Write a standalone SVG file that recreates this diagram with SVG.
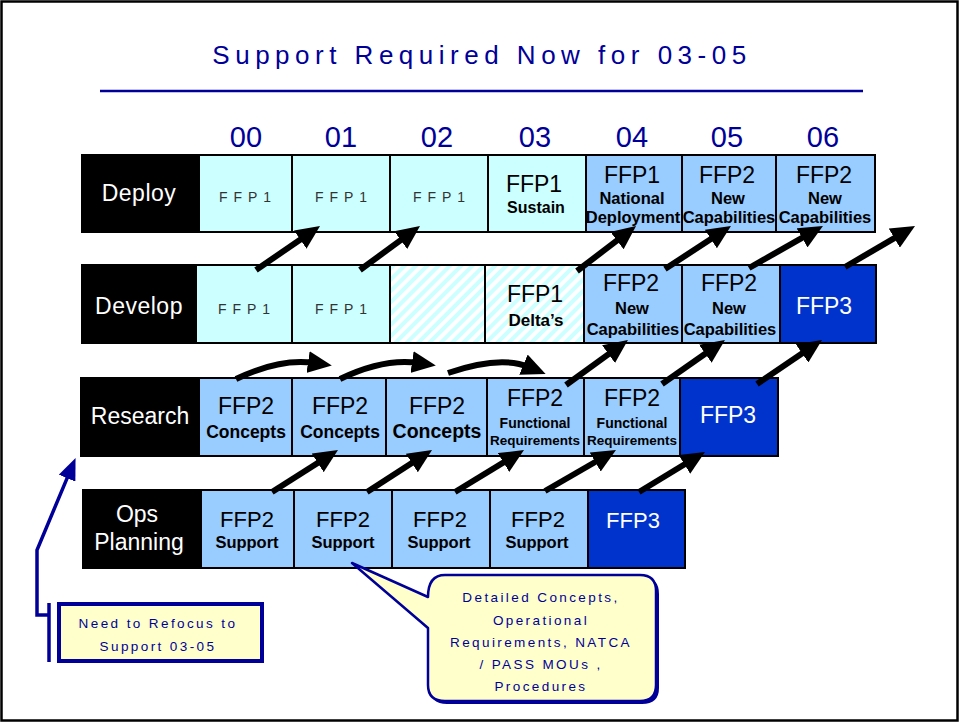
<svg xmlns="http://www.w3.org/2000/svg" width="960" height="723" viewBox="0 0 960 723">
<style>
text{font-family:"Liberation Sans",Arial,sans-serif;text-anchor:middle}
.cell{stroke:#000;stroke-width:2}
.blk{fill:#000}.cy{fill:#CCFFFF}.lb{fill:#99CCFF}.db{fill:#0033CC}.ht{fill:url(#hatch)}
.lbl{fill:#fff;font-size:23px}
.big{fill:#000;font-size:23px}
.w{fill:#fff;font-size:23px}
.sm{fill:#333;font-size:14px;letter-spacing:6px}
.sub{fill:#000;font-weight:bold;font-size:16.5px}
.fr{fill:#000;font-weight:bold;font-size:14px}
.yr{fill:#000099;font-size:29px}
.note{fill:#000099;font-size:13.5px;letter-spacing:2.4px}
.arr{stroke:#000;stroke-width:6;fill:none;marker-end:url(#ah)}
</style>
<defs>
<pattern id="hatch" patternUnits="userSpaceOnUse" width="8" height="8" patternTransform="rotate(45)">
<rect width="8" height="8" fill="#fff"/><rect width="4" height="8" fill="#CCFFFF"/>
</pattern>
<marker id="ah" markerUnits="userSpaceOnUse" viewBox="0 0 24 22" refX="6" refY="11" markerWidth="24" markerHeight="22" orient="auto">
<path d="M0,0 L24,11 L0,22 Z" fill="#000"/>
</marker>
<marker id="bh" markerUnits="userSpaceOnUse" viewBox="0 0 22 18" refX="5" refY="9" markerWidth="22" markerHeight="18" orient="auto">
<path d="M0,0 L22,9 L0,18 Z" fill="#000099"/>
</marker>
</defs>
<rect x="1.5" y="1.5" width="956" height="719" fill="#fff" stroke="#000" stroke-width="2.5"/>
<g id="title">
<text x="482" y="64" style="fill:#000099;font-size:26px;letter-spacing:5.5px">Support Required Now for 03-05</text>
<line x1="100" y1="91" x2="863" y2="91" stroke="#000099" stroke-width="2.5"/>
</g>
<g id="years">
<text class="yr" x="246" y="147">00</text>
<text class="yr" x="341" y="147">01</text>
<text class="yr" x="437" y="147">02</text>
<text class="yr" x="535" y="147">03</text>
<text class="yr" x="632" y="147">04</text>
<text class="yr" x="727" y="147">05</text>
<text class="yr" x="823" y="147">06</text>
</g>
<!-- Deploy row -->
<g id="deploy-label"><rect class="cell blk" x="82" y="155" width="117" height="77"/><text class="lbl" x="139" y="201" style="letter-spacing:0.5px">Deploy</text></g>
<g id="deploy-00"><rect class="cell cy" x="199" y="155" width="93" height="77"/><text class="sm" x="248" y="202">FFP1</text></g>
<g id="deploy-01"><rect class="cell cy" x="292" y="155" width="98" height="77"/><text class="sm" x="344" y="202">FFP1</text></g>
<g id="deploy-02"><rect class="cell cy" x="390" y="155" width="98" height="77"/><text class="sm" x="442" y="202">FFP1</text></g>
<g id="deploy-03"><rect class="cell cy" x="488" y="155" width="98" height="77"/><text class="big" x="534" y="192">FFP1</text><text class="sub" x="536" y="213" style="font-size:16px">Sustain</text></g>
<g id="deploy-04"><rect class="cell lb" x="586" y="155" width="96" height="77"/><text class="big" x="632" y="183">FFP1</text><text class="sub" x="632" y="204">National</text><text class="sub" x="633" y="223">Deployment</text></g>
<g id="deploy-05"><rect class="cell lb" x="682" y="155" width="94" height="77"/><text class="big" x="727" y="183">FFP2</text><text class="sub" x="728" y="204">New</text><text class="sub" x="729" y="223">Capabilities</text></g>
<g id="deploy-06"><rect class="cell lb" x="776" y="155" width="99" height="77"/><text class="big" x="824" y="183">FFP2</text><text class="sub" x="825" y="204">New</text><text class="sub" x="825" y="223">Capabilities</text></g>
<!-- Develop row -->
<g id="develop-label"><rect class="cell blk" x="82" y="265" width="114" height="78"/><text class="lbl" x="139" y="314" style="letter-spacing:0.5px">Develop</text></g>
<g id="develop-00"><rect class="cell cy" x="196" y="265" width="96" height="78"/><text class="sm" x="247" y="314">FFP1</text></g>
<g id="develop-01"><rect class="cell cy" x="292" y="265" width="98" height="78"/><text class="sm" x="344" y="314">FFP1</text></g>
<g id="develop-02"><rect class="cell ht" x="390" y="265" width="95" height="78"/></g>
<g id="develop-03"><rect class="cell ht" x="485" y="265" width="99" height="78"/><text class="big" x="535" y="302">FFP1</text><text class="sub" x="536" y="326" style="font-size:17px">Delta’s</text></g>
<g id="develop-04"><rect class="cell lb" x="584" y="265" width="98" height="78"/><text class="big" x="631" y="291">FFP2</text><text class="sub" x="632" y="314">New</text><text class="sub" x="633" y="335">Capabilities</text></g>
<g id="develop-05"><rect class="cell lb" x="682" y="265" width="98" height="78"/><text class="big" x="729" y="291">FFP2</text><text class="sub" x="729" y="314">New</text><text class="sub" x="730" y="335">Capabilities</text></g>
<g id="develop-06"><rect class="cell db" x="780" y="265" width="96" height="78"/><text class="w" x="824" y="314">FFP3</text></g>
<!-- Research row -->
<g id="research-label"><rect class="cell blk" x="81" y="378" width="118" height="78"/><text class="lbl" x="140" y="424">Research</text></g>
<g id="research-00"><rect class="cell lb" x="199" y="378" width="93" height="78"/><text class="big" x="246" y="414">FFP2</text><text class="sub" x="246" y="438" style="font-size:17.5px">Concepts</text></g>
<g id="research-01"><rect class="cell lb" x="292" y="378" width="94" height="78"/><text class="big" x="340" y="414">FFP2</text><text class="sub" x="340" y="438" style="font-size:17.5px">Concepts</text></g>
<g id="research-02"><rect class="cell lb" x="386" y="378" width="101" height="78"/><text class="big" x="437" y="414">FFP2</text><text class="sub" x="437" y="438" style="font-size:19.5px">Concepts</text></g>
<g id="research-03"><rect class="cell lb" x="487" y="378" width="97" height="78"/><text class="big" x="535" y="406">FFP2</text><text class="fr" x="535" y="428">Functional</text><text class="fr" x="535" y="445" style="font-size:13.5px">Requirements</text></g>
<g id="research-04"><rect class="cell lb" x="584" y="378" width="96" height="78"/><text class="big" x="632" y="406">FFP2</text><text class="fr" x="632" y="428">Functional</text><text class="fr" x="632" y="445" style="font-size:13.5px">Requirements</text></g>
<g id="research-05"><rect class="cell db" x="680" y="378" width="98" height="78"/><text class="w" x="728" y="423">FFP3</text></g>
<!-- Ops Planning row -->
<g id="ops-label"><rect class="cell blk" x="83" y="490" width="118" height="78"/><text class="lbl" x="137" y="522">Ops</text><text class="lbl" x="139" y="550">Planning</text></g>
<g id="ops-00"><rect class="cell lb" x="201" y="490" width="93" height="78"/><text class="big" x="247" y="527" style="font-size:22px">FFP2</text><text class="sub" x="247" y="548" style="font-size:16.5px">Support</text></g>
<g id="ops-01"><rect class="cell lb" x="294" y="490" width="98" height="78"/><text class="big" x="343" y="527" style="font-size:22px">FFP2</text><text class="sub" x="343" y="548" style="font-size:16.5px">Support</text></g>
<g id="ops-02"><rect class="cell lb" x="392" y="490" width="98" height="78"/><text class="big" x="440" y="527" style="font-size:22px">FFP2</text><text class="sub" x="439" y="548" style="font-size:16.5px">Support</text></g>
<g id="ops-03"><rect class="cell lb" x="490" y="490" width="98" height="78"/><text class="big" x="538" y="527" style="font-size:22px">FFP2</text><text class="sub" x="537" y="548" style="font-size:16.5px">Support</text></g>
<g id="ops-04"><rect class="cell db" x="588" y="490" width="97" height="78"/><text class="w" x="633" y="528" style="font-size:22px">FFP3</text></g>
<!-- connectors -->
<g id="connectors">
<line class="arr" x1="256" y1="270" x2="305.2" y2="236.2"/>
<line class="arr" x1="360" y1="270" x2="405.5" y2="236.6"/>
<line class="arr" x1="577" y1="271" x2="621.7" y2="236.9"/>
<line class="arr" x1="665" y1="269" x2="715.9" y2="235.8"/>
<line class="arr" x1="749" y1="268" x2="807.3" y2="234.9"/>
<line class="arr" x1="845" y1="267" x2="899.5" y2="235.1"/>
<line class="arr" x1="566" y1="385" x2="613.4" y2="350.6"/>
<line class="arr" x1="662" y1="384" x2="710.2" y2="350.3"/>
<line class="arr" x1="757" y1="384" x2="807.1" y2="350.1"/>
<path class="arr" d="M236,379 Q280,358 314,363"/>
<path class="arr" d="M340,379 Q384,358 418,363"/>
<path class="arr" d="M448,373 Q500,355 529,367"/>
<line class="arr" x1="272" y1="492" x2="322.8" y2="459.7"/>
<line class="arr" x1="367" y1="492" x2="416.9" y2="459.8"/>
<line class="arr" x1="455" y1="492" x2="508.6" y2="459.4"/>
<line class="arr" x1="545" y1="491" x2="600.4" y2="459"/>
<line class="arr" x1="639" y1="492" x2="689.6" y2="461.3"/>
<path d="M49,615 L37,615 L37,550 L69,473.6" fill="none" stroke="#000099" stroke-width="3.5" marker-end="url(#bh)"/>
<line x1="49" y1="603" x2="49" y2="662" stroke="#000099" stroke-width="3.5"/>
</g>
<g id="refocus-note">
<rect x="59" y="604" width="203" height="57" fill="#FFFFCC" stroke="#000099" stroke-width="4"/>
<text class="note" x="158" y="628">Need to Refocus to</text>
<text class="note" x="158" y="651">Support 03-05</text>
</g>
<g id="detail-callout">
<path d="M447,577 L642,577 Q659,577 659,594 L659,688 Q659,704 642,704 L447,704 Q430,704 430,688 L430,631 L355,565 L430,599 Q430,577 447,577 Z" fill="#000099"/>
<path d="M445,575 L640,575 Q656,575 656,591 L656,685 Q656,701 640,701 L445,701 Q428,701 428,685 L428,628 L352,563 L428,597 Q428,575 445,575 Z" fill="#FFFFCC" stroke="#000099" stroke-width="2.5" stroke-linejoin="round"/>
<text class="note" x="541" y="602">Detailed Concepts,</text>
<text class="note" x="541" y="625">Operational</text>
<text class="note" x="541" y="647">Requirements, NATCA</text>
<text class="note" x="541" y="669">/ PASS MOUs ,</text>
<text class="note" x="541" y="691">Procedures</text>
</g>
</svg>
